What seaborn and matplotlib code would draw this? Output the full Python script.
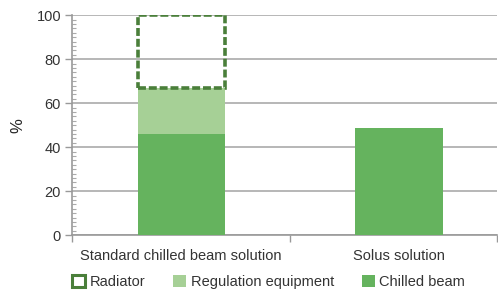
import matplotlib
matplotlib.use("Agg")
import matplotlib.pyplot as plt
from matplotlib.patches import Patch
from matplotlib.ticker import MultipleLocator
import pandas as pd
import seaborn as sns

categories = ["Standard chilled beam solution", "Solus solution"]
chilled_beam = [46, 48.5]
regulation = [21, 0]
radiator = [33, 0]

dark_green = "#65b35e"
light_green = "#a6d096"
edge_green = "#4a7f3a"

sns.set_style("white")
plt.rcParams["font.family"] = ["Liberation Sans", "DejaVu Sans"]
plt.rcParams["font.size"] = 10.5

df = pd.DataFrame({"cat": categories, "chilled": chilled_beam,
                   "reg": regulation, "rad": radiator})
df["reg_top"] = df["chilled"] + df["reg"]

fig = plt.figure(figsize=(4.98, 2.91), dpi=100)
ax = fig.add_axes([0.145, 0.192, 0.853, 0.756])

sns.barplot(data=df, x="cat", y="chilled", order=categories, color=dark_green,
            width=0.4, saturation=1, ax=ax, linewidth=0, zorder=3)
reg = df[df["reg"] > 0]
sns.barplot(x=reg["cat"], y=reg["reg"], order=categories, color=light_green,
            width=0.4, saturation=1, ax=ax, linewidth=0, zorder=2,
            bottom=reg["chilled"].values)
rad = df[df["rad"] > 0]
sns.barplot(x=rad["cat"], y=rad["rad"], order=categories, fill=False,
            width=0.4, ax=ax, edgecolor=edge_green, linewidth=2.6,
            linestyle=(0, (2.2, 0.8)), zorder=4, bottom=rad["reg_top"].values)

ax.set_ylim(0, 100)
ax.set_xlim(-0.5, 1.45)
ax.yaxis.set_major_locator(MultipleLocator(20))
ax.yaxis.set_minor_locator(MultipleLocator(2))
ax.grid(axis="y", which="major", color="#aaaaaa", linewidth=1.2, zorder=0)
ax.set_axisbelow(True)
ax.set_xlabel("")
ax.set_ylabel("%", fontsize=12, labelpad=8)

ax.set_xticks([-0.5, 0.5, 1.45], minor=True)
ax.tick_params(axis="x", which="minor", bottom=True, length=5, direction="out",
               color="#999999", width=1)
ax.tick_params(axis="x", which="major", length=0, pad=10, labelcolor="#333333")
ax.tick_params(axis="y", which="major", left=True, length=5, direction="out",
               color="#999999", width=1, labelcolor="#333333", pad=3)
ax.tick_params(axis="y", which="minor", left=True, length=3, direction="in",
               color="#aaaaaa", width=0.8)

for side in ["top", "right"]:
    ax.spines[side].set_visible(False)
for side in ["left", "bottom"]:
    ax.spines[side].set_color("#999999")
    ax.spines[side].set_linewidth(1.2)

handles = [Patch(facecolor="white", edgecolor=edge_green, linewidth=2.2),
           Patch(facecolor=light_green, linewidth=0),
           Patch(facecolor=dark_green, linewidth=0)]
ax.legend(handles, ["Radiator", "Regulation equipment", "Chilled beam"], ncol=3,
          loc="center left", bbox_to_anchor=(0.0, -0.214), frameon=False,
          borderaxespad=0, borderpad=0,
          handlelength=0.9, handleheight=0.9, handletextpad=0.3, columnspacing=1.9,
          fontsize=10.5, labelcolor="#333333")

fig.savefig("out.png", dpi=100)
